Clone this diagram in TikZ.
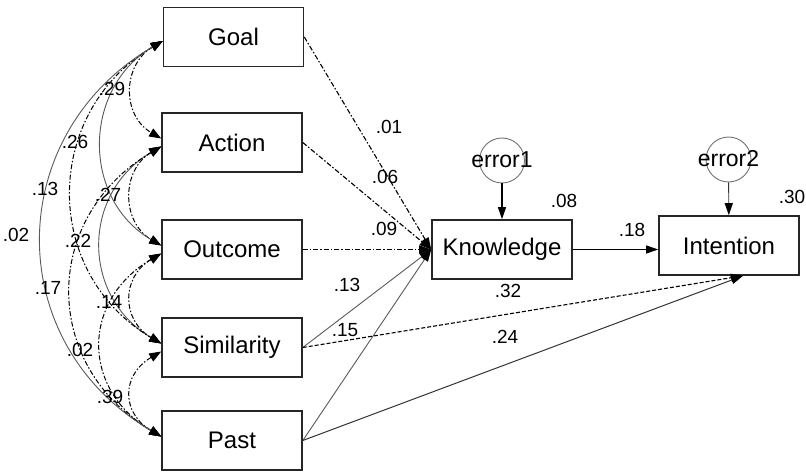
\documentclass[tikz,border=0pt]{standalone}
\usepackage{fontspec}
\setmainfont{Liberation Sans}
\usetikzlibrary{arrows.meta,calc}
\begin{document}
\begin{tikzpicture}[x=1pt,y=-1pt,
  var/.style={draw=black!85, line width=1.6pt, minimum width=140pt, minimum height=59pt, inner sep=0pt, font=\fontsize{24}{28}\selectfont},
  err/.style={circle, draw=black!55, line width=0.9pt, minimum size=45pt, inner sep=0pt},
  errtxt/.style={inner sep=0pt, font=\fontsize{23}{27}\selectfont},
  coef/.style={inner sep=0pt, font=\fontsize{19}{22}\selectfont},
  tip/.style={-{Triangle[length=12pt,width=8pt,color=black]}, line width=1.1pt},
  cov/.style={{Triangle[length=12pt,width=9pt,color=black]}-{Triangle[length=12pt,width=9pt,color=black]}, line width=1pt},
  dd/.style={dash pattern=on 5pt off 2pt on 1.5pt off 2pt},
  dsh/.style={dash pattern=on 4pt off 2pt},
  thin gray/.style={draw=black!65, line width=0.9pt}
]
\useasboundingbox (0,0) rectangle (806,473);

% boxes
\node[var] (goal) at (233.5,37) {Goal};
\node[var] (action) at (232,142.5) {Action};
\node[var] (outcome) at (232,249.5) {Outcome};
\node[var] (similarity) at (232,347.5) {Similarity};
\node[var] (past) at (232,440.5) {Past};
\node[var] (knowledge) at (502,249.5) {Knowledge};
\node[var] (intention) at (729,245.5) {Intention};

% error terms
\node[err] (e1) at (502,160.5) {};
\node[errtxt] (e1t) at (502,160) {error1};
\node[err] (e2) at (728.5,159.5) {};
\node[errtxt] (e2t) at (728.5,159) {error2};

% structural paths
\draw[tip] (e1) -- (knowledge);
\draw[tip,black!80,line width=0.9pt] (e2) -- (intention);
\draw[tip] (knowledge.east) -- (knowledge.east -| intention.west);

\draw[tip,dd] (goal.east) -- (knowledge.west);
\draw[tip,dd] (action.east) -- (knowledge.west);
\draw[tip,dd] (outcome.east) -- (knowledge.west);
\draw[tip,thin gray] (similarity.east) -- (knowledge.west);
\draw[tip,thin gray] (past.east) -- (knowledge.west);

\draw[tip,dsh] (similarity.east) -- ([xshift=14pt]intention.south);
\draw[tip,line width=1pt,black!80] (past.east) -- ([xshift=14pt]intention.south);

% covariances (d = 1)
\draw[cov,dd] ([yshift=-4pt]goal.west) .. controls +(-40,23.6) and +(-40,-23.6) .. ([yshift=4pt]action.west);
\draw[cov,dd] ([yshift=-4pt]action.west) .. controls +(-40,23.6) and +(-40,-23.6) .. ([yshift=4pt]outcome.west);
\draw[cov,dd] ([yshift=-4pt]outcome.west) .. controls +(-40,23.6) and +(-40,-23.6) .. ([yshift=4pt]similarity.west);
\draw[cov,dd] ([yshift=-4pt]similarity.west) .. controls +(-40,23.6) and +(-40,-23.6) .. ([yshift=4pt]past.west);
% d = 2
\draw[cov,thin gray] ([yshift=-4pt]goal.west) .. controls +(-80,47) and +(-80,-47) .. ([yshift=4pt]outcome.west);
\draw[cov,thin gray] ([yshift=-4pt]action.west) .. controls +(-80,47) and +(-80,-47) .. ([yshift=4pt]similarity.west);
\draw[cov,dd] ([yshift=-4pt]outcome.west) .. controls +(-80,47) and +(-80,-47) .. ([yshift=4pt]past.west);
% d = 3
\draw[cov,dd] ([yshift=-4pt]goal.west) .. controls +(-120,71) and +(-120,-71) .. ([yshift=4pt]similarity.west);
\draw[cov,dd] ([yshift=-4pt]action.west) .. controls +(-120,71) and +(-120,-71) .. ([yshift=4pt]past.west);
% d = 4
\draw[cov,thin gray] ([yshift=-4pt]goal.west) .. controls +(-160,94) and +(-160,-94) .. ([yshift=4pt]past.west);

% coefficient labels: covariances
\node[coef] (c1) at (112,89) {.29};
\node[coef] (c2) at (75,142) {.26};
\node[coef] (c3) at (45,189) {.13};
\node[coef] (c4) at (16,235) {.02};
\node[coef] (c5) at (108,195) {.27};
\node[coef] (c6) at (78,241) {.22};
\node[coef] (c7) at (48,288) {.17};
\node[coef] (c8) at (109,302) {.14};
\node[coef] (c9) at (80,350) {.02};
\node[coef] (c10) at (110,397) {.39};

% coefficient labels: paths
\node[coef] (p1) at (389,127) {.01};
\node[coef] (p2) at (385,177) {.06};
\node[coef] (p3) at (384,229) {.09};
\node[coef] (p4) at (347,285) {.13};
\node[coef] (p5) at (345,330) {.15};
\node[coef] (p6) at (508,291) {.32};
\node[coef] (p7) at (505,337) {.24};
\node[coef] (p8) at (632,230) {.18};
\node[coef] (r1) at (564,201) {.08};
\node[coef] (r2) at (792,197) {.30};
\end{tikzpicture}
\end{document}
